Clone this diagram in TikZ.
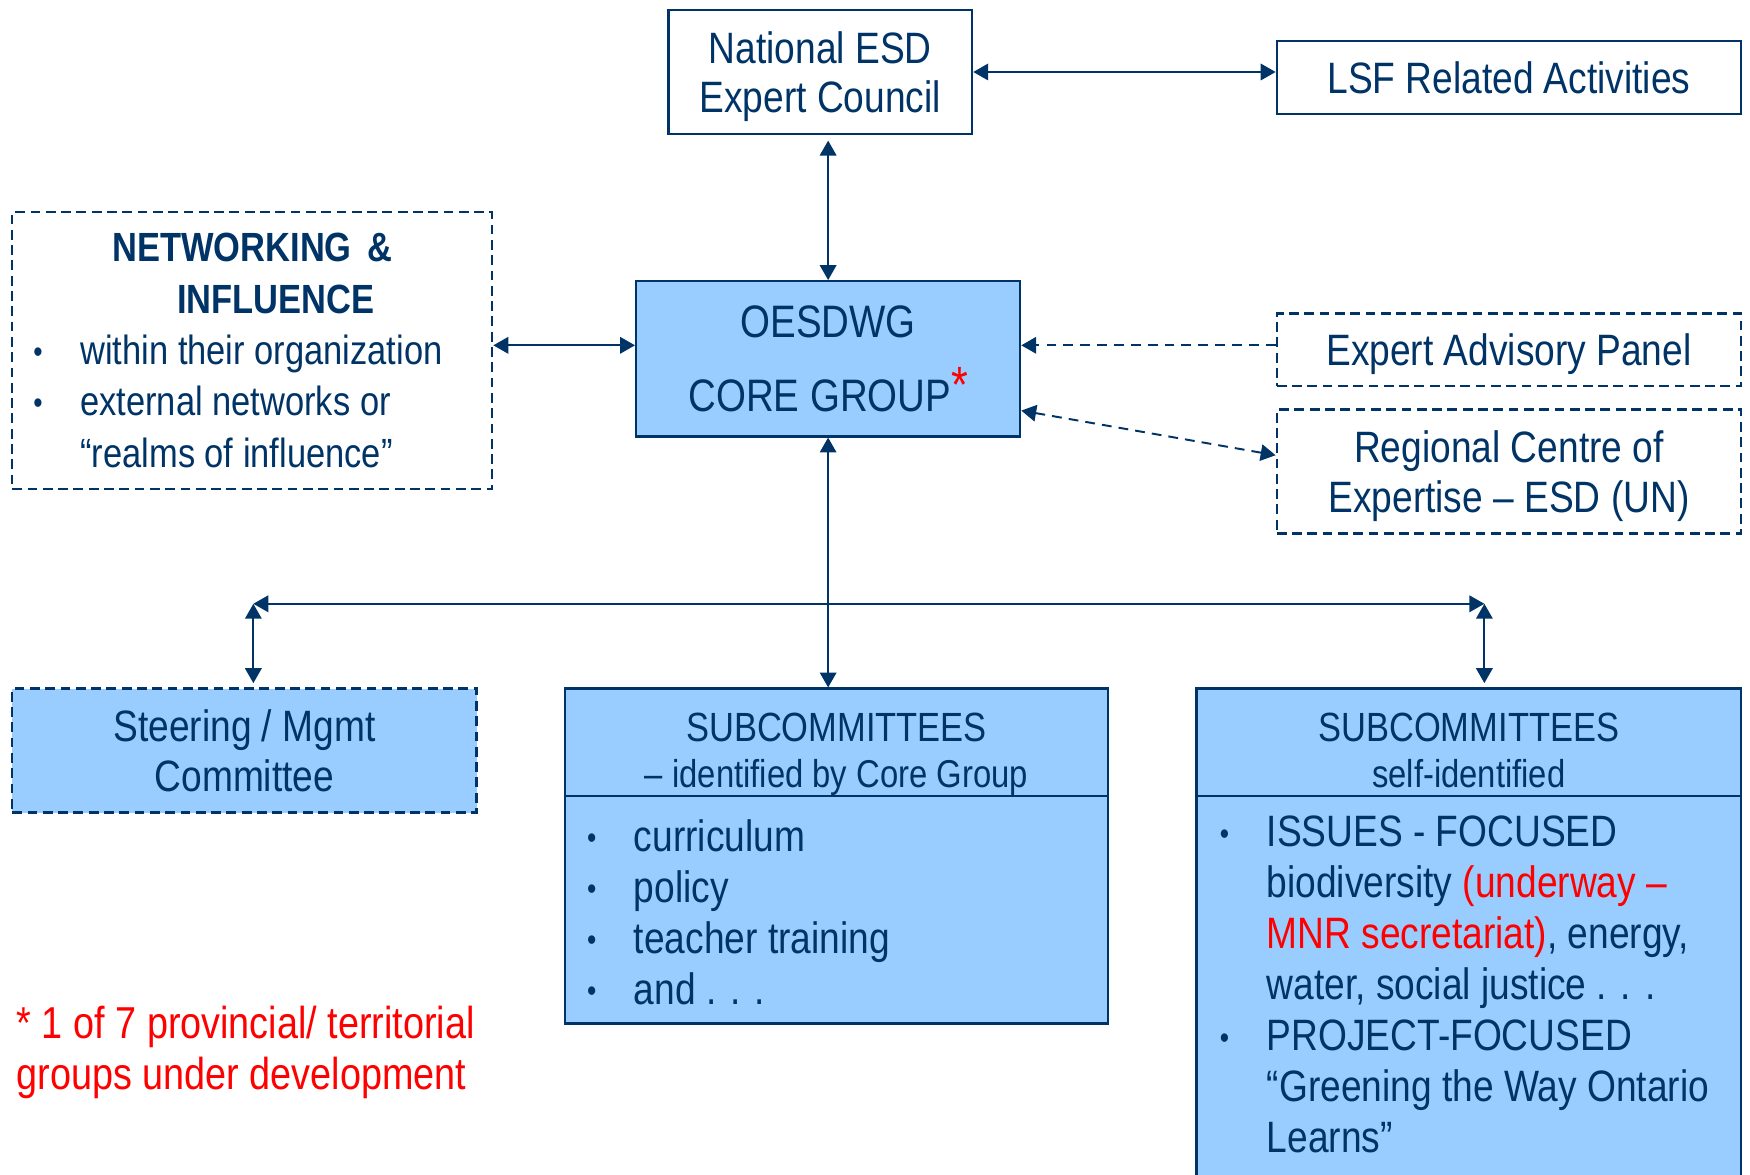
\documentclass[tikz,border=0pt]{standalone}
\usepackage{fontspec}
\setmainfont{Liberation Sans}[FakeStretch=0.845]
\usetikzlibrary{arrows.meta}
\definecolor{navy}{RGB}{0,51,102}
\definecolor{skyfill}{RGB}{153,204,255}
\definecolor{alertred}{RGB}{255,0,0}
\newcommand{\bul}{\makebox[4.2mm][l]{\raisebox{0.6pt}{\fontsize{8}{8}\selectfont\textbullet}}}
\newcommand{\ind}{\hspace*{4.2mm}}

\begin{document}
\begin{tikzpicture}[x = 0.1mm, y = -0.1mm, line width = 0.6pt,
	>= {Triangle[length = 3.8pt, width = 4.2pt]},
	box/.style = {draw = navy, text = navy, align = center, inner sep = 0pt, text depth = 0pt, font = \fontsize{11.2}{12.6}\selectfont},
	dbox/.style = {box, dash pattern = on 2.5pt off 1.4pt},
	txt/.style = {text = navy, inner sep = 0pt, font = \fontsize{11.2}{13}\selectfont},
	link/.style = {draw = navy, line width = 0.5pt, <->},
	dlink/.style = {link, dash pattern = on 2.5pt off 1.8pt}]
	\useasboundingbox (0, 0) rectangle (1568, 1052);

	% top row
	\node[box, minimum width = 27.2mm, minimum height = 11.1mm] (natl) at (735, 64.5) {National ESD\\Expert Council};
	\node[box, minimum width = 41.6mm, minimum height = 6.5mm] (lsf) at (1352, 69.5) {LSF Related Activities};

	% middle row
	\node[dbox, text depth = {}, minimum width = 43mm, minimum height = 24.8mm, text width = 43mm, font = \fontsize{10.4}{13.1}\selectfont] (netw) at (226, 314)
		{\spaceskip = 0pt \xspaceskip = 0pt
		{\bfseries NETWORKING \&\\\hspace*{4.2mm}INFLUENCE\par}
		{\raggedright\hspace*{1.9mm}\bul within their organization\\\hspace*{1.9mm}\bul external networks or\\\hspace*{6.1mm}“realms of influence”\par}};
	\node[box, fill = skyfill, minimum width = 34.4mm, minimum height = 13.9mm, font = \fontsize{11.6}{18.8}\selectfont] (core) at (742, 321.5)
		{OESDWG\\CORE GROUP\textcolor{alertred}{\raisebox{0.8mm}{\fontsize{13}{13}\selectfont *}}};
	\node[dbox, minimum width = 41.6mm, minimum height = 6.5mm] (eap) at (1352, 313.5) {Expert Advisory Panel};
	\node[dbox, minimum width = 41.6mm, minimum height = 11.1mm] (rce) at (1352, 422.5) {Regional Centre of\\Expertise – ESD (UN)};

	% bottom row
	\node[dbox, fill = skyfill, minimum width = 41.6mm, minimum height = 11.1mm] (steer) at (219, 672.5) {Steering / Mgmt\\Committee};
	\node[box, fill = skyfill, minimum width = 48.7mm, minimum height = 30mm] (subA) at (749.5, 767) {};
	\node[box, fill = skyfill, minimum width = 48.8mm, minimum height = 44.5mm] (subB) at (1316, 839.5) {};
	\foreach \s in {subA, subB}
		\draw[navy] ([yshift = -9.7mm] \s.north west) -- ([yshift = -9.7mm] \s.north east);
	\node[txt, align = center, font = \fontsize{10.4}{11.7}\selectfont] (subAhead) at (749.5, 676)
		{SUBCOMMITTEES\\{\fontsize{9.9}{11.7}\selectfont – identified by Core Group}};
	\node[txt, align = center, font = \fontsize{10.4}{11.7}\selectfont] (subBhead) at (1316, 672.5)
		{SUBCOMMITTEES\\{\fontsize{9.9}{11.7}\selectfont self-identified}};
	\node[txt, anchor = west, align = left] (subAlist) at (525, 817)
		{\bul curriculum\\\bul policy\\\bul teacher training\\\bul and . . .};
	\node[txt, anchor = west, align = left] (subBlist) at (1092, 882)
		{\bul ISSUES - FOCUSED\\\ind biodiversity \textcolor{alertred}{(underway –}\\\ind\textcolor{alertred}{MNR secretariat)}, energy,\\\ind water, social justice . . .\\\bul PROJECT-FOCUSED\\\ind “Greening the Way Ontario\\\ind Learns”};

	\node[txt, anchor = north west, align = left, text = alertred, font = \fontsize{11.4}{13}\selectfont] (note) at (14, 900) {* 1 of 7 provincial/ territorial\\groups under development};

	% connectors
	\draw[link] (natl.east) -- (natl.east -| lsf.west);
	\draw[link, shorten >= 1.4pt] (core.north) -- (core.north |- natl.south);
	\draw[link] (core.176) -- (core.176 -| netw.east);
	\draw[dlink, ->] (eap.west |- core.4) -- (core.4);
	\draw[dlink] (core.-15) -- (rce.176);
	\draw[link] (core.south) -- (core.south |- subA.north);
	\coordinate (busl) at (227, 541);
	\coordinate (busr) at (1330, 541);
	\draw[link] (busl) -- (busr);
	\draw[link, shorten >= 1.1pt] (busl) -- (busl |- steer.north);
	\draw[link, shorten >= 1.1pt] (busr) -- (busr |- subB.north);
\end{tikzpicture}
\end{document}
